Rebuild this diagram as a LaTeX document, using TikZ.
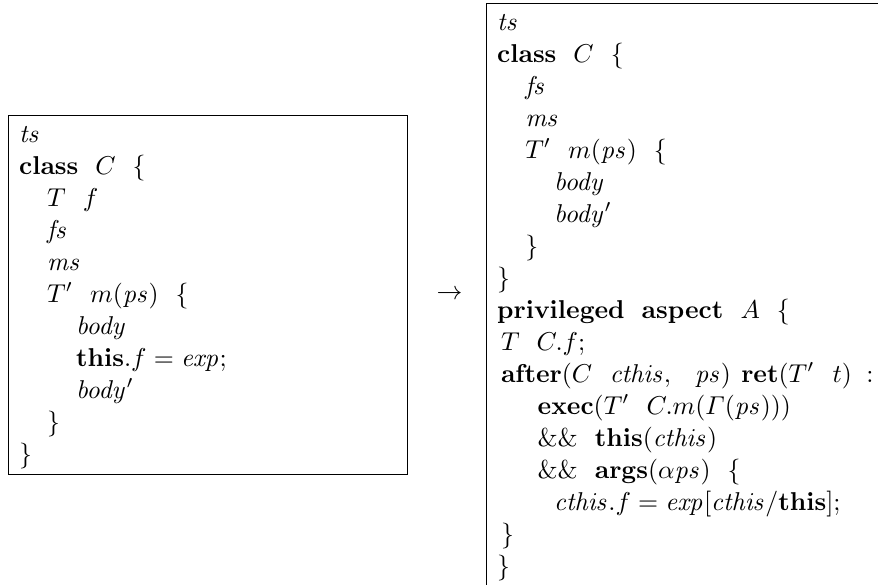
\documentclass[tikz,border=0pt]{standalone}
\usepackage{amsmath}
\usetikzlibrary{matrix,fit,positioning}
\newcommand{\kw}[1]{\mathbf{#1}}
\newcommand{\id}[1]{\mathit{#1}}
\newcommand{\spc}{\hspace{6.6pt}}
\tikzset{
  code/.style={matrix of math nodes,inner sep=0pt,row sep=0pt,anchor=west,
    nodes={anchor=base west,inner sep=0pt,text height=9pt,text depth=3.4pt}},
  frame/.style={draw,inner xsep=3.9pt,inner ysep=1.1pt},
  indd/.style={xshift=1.5pt},
  inda/.style={xshift=10.9pt},
  indc/.style={xshift=15.7pt},
  indb/.style={xshift=22.1pt}
}

\begin{document}
\begin{tikzpicture}
\useasboundingbox (0,0) rectangle (340.3pt,-226.4pt);
\clip (0,0) rectangle (340.3pt,-226.4pt);
\matrix[code] (lhs) at (7.2pt,-114.3pt)
{
  \id{ts}\\
  \kw{class}\spc C\spc\{\\
  |[inda]| T\spc f\\
  |[inda]| \id{fs}\\
  |[inda]| \id{ms}\\
  |[inda]| T'\spc m(\id{ps})\spc\{\\
  |[indb]| \id{body}\\
  |[indb]| \kw{this}.f = \id{exp};\\
  |[indb]| \id{body'}\\
  |[inda]| \}\\
  \}\\
};
\coordinate (lend) at ([xshift=147pt]lhs.west);
\node[frame,fit={(lhs) (lend)}] (lbox) {};
\node[inner sep=0pt,right=10.7pt of lbox] (arrow) {$\to$};
\matrix[code,right=13.1pt of arrow] (rhs)
{
  \id{ts}\\
  \kw{class}\spc C\spc\{\\
  |[inda]| \id{fs}\\
  |[inda]| \id{ms}\\
  |[inda]| T'\spc m(\id{ps})\spc\{\\
  |[indb]| \id{body}\\
  |[indb]| \id{body'}\\
  |[inda]| \}\\
  \}\\
  \kw{privileged}\spc\kw{aspect}\spc A\spc\{\\
  |[indd]| T\spc C.f;\\
  |[indd]| \kw{after}(C\hspace{6.8pt}\id{cthis},\hspace{7.6pt}\id{ps})\hspace{4pt}\kw{ret}(T'\hspace{7pt}t)\hspace{2.8pt}:\\
  |[indc]| \kw{exec}(T'\spc C.m(\varGamma(\id{ps})))\\
  |[indc]| \&\&\spc\kw{this}(\id{cthis})\\
  |[indc]| \&\&\spc\kw{args}(\alpha\id{ps})\spc\{\\
  |[indb]| \id{cthis}.f = \id{exp}[\id{cthis}/\kw{this}];\\
  |[indd]| \}\\
  \}\\
};
\coordinate (rend) at ([xshift=200pt]rhs.east);
\node[frame,fit={(rhs) (rend)}] (rbox) {};
\end{tikzpicture}
\end{document}
